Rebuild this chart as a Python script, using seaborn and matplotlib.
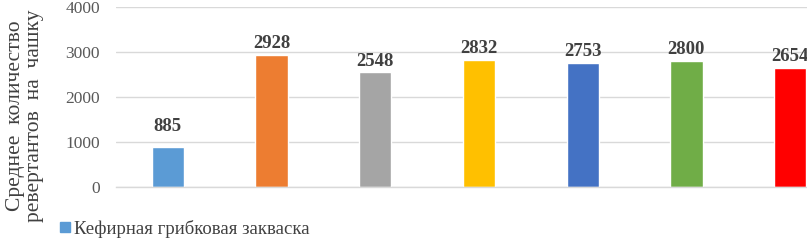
import seaborn as sns
import matplotlib.pyplot as plt
from matplotlib.patches import Patch

# Data
categories = ['Кефирная грибковая закваска', 'Образец 2', 'Образец 3', 'Образец 4',
              'Образец 5', 'Образец 6', 'Образец 7']
values = [885, 2928, 2548, 2832, 2753, 2800, 2654]
colors = ['#5B9BD5', '#ED7D31', '#A5A5A5', '#FFC000', '#4472C4', '#70AD47', '#FF0000']
y_ticks = [0, 1000, 2000, 3000, 4000]

sns.set_style('white')
plt.rcParams['font.family'] = ['Liberation Serif', 'DejaVu Serif']

fig = plt.figure(figsize=(8.07, 2.4), dpi=100)
# plot area runs past the right edge, as in the cropped original
ax = fig.add_axes([116 / 807, 53 / 240, 726 / 807, 180 / 240])

sns.barplot(x=categories, y=values, hue=categories, palette=colors, legend=False,
            width=0.31, saturation=1, ax=ax)

ax.set_xlim(-0.5, 6.5)
ax.set_ylim(0, 4000)
ax.set_yticks(y_ticks)
ax.set_xticks([])
ax.set_xlabel('')
ax.set_ylabel('')
ax.tick_params(axis='y', length=0, pad=11.5, labelsize=12.5, labelcolor='#595959')
ax.grid(axis='y', color='#D9D9D9', linewidth=1)
ax.set_axisbelow(True)
for side in ['left', 'right', 'top']:
    ax.spines[side].set_visible(False)
ax.spines['bottom'].set_color('#D9D9D9')
ax.spines['bottom'].set_linewidth(1)

for i, v in enumerate(values):
    off = 9 if i == 0 else 2
    ax.annotate(str(v), (i, v), xytext=(0, off), textcoords='offset points',
                ha='center', va='bottom', fontsize=13.5, fontweight='bold',
                color='#404040')

fig.text(25 / 807, (240 - 116) / 240, 'Среднее  количество\nревертантов  на  чашку',
         rotation=90, ha='center', va='center', multialignment='center',
         fontsize=15.5, color='#404040', linespacing=1.0)

fig.legend(handles=[Patch(color=colors[0])], labels=[categories[0]],
           loc='lower left', bbox_to_anchor=(47 / 807, -0.045), frameon=False,
           handlelength=0.5, handleheight=0.5, handletextpad=0.25, borderpad=0.2,
           prop={'size': 13.5}, labelcolor='#404040')

fig.savefig('out.png', dpi=100)
